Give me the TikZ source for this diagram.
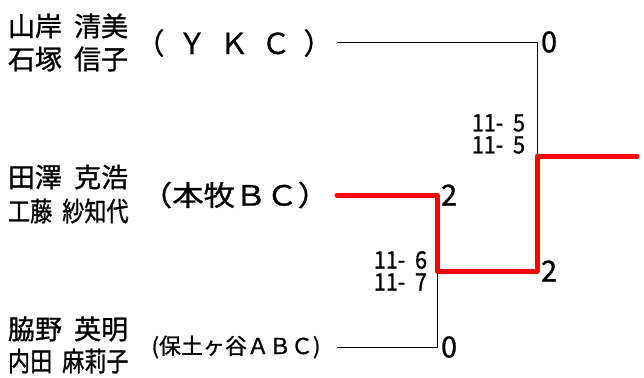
\documentclass[tikz,border=0pt]{standalone}
\usepackage{fontspec}
\newfontfamily\jpfont[WordSpace=2,FakeBold=1]{Noto Sans CJK JP}
\begin{document}
\begin{tikzpicture}[x=1pt,y=-1pt,
  player/.style={inner sep=0pt,outer sep=0pt,anchor=west,font=\jpfont\fontsize{27}{30}\selectfont},
  squeeze/.style={xscale=0.82,transform shape},
  team/.style={inner sep=0pt,outer sep=0pt,font=\jpfont\fontsize{28}{30}\selectfont},
  point/.style={inner sep=0pt,outer sep=0pt,anchor=west,font=\jpfont\fontsize{29}{30}\selectfont},
  game/.style={inner sep=0pt,outer sep=0pt,anchor=east,font=\jpfont\fontsize{24}{24}\selectfont,xscale=0.9,transform shape},
  lose/.style={draw=black,line width=0.8pt},
  win/.style={draw=red,line width=5pt,line cap=round,line join=round}]
\path[use as bounding box] (0,0) rectangle (644,377);
% bracket corners
\coordinate (a1) at (337,42);
\coordinate (a2) at (537,42);
\coordinate (b1) at (337,195);
\coordinate (b2) at (437,195);
\coordinate (c1) at (337,347);
\coordinate (c2) at (437,347);
\coordinate (sf) at (437,271);
\coordinate (fi) at (537,271);
\coordinate (top) at (537,156);
\coordinate (champ) at (637,156);
% pairs
\node[player] (p1a) at (8,26) {山岸 清美};
\node[player] (p1b) at (8,59) {石塚 信子};
\node[team,font=\jpfont\fontsize{29}{30}\selectfont] (t1) at (234,43) {（ Ｙ Ｋ Ｃ ）};
\node[player] (p2a) at (8,177) {田澤 克浩};
\node[player,squeeze] (p2b) at (8,211) {工藤 紗知代};
\node[team,xscale=1.12,transform shape] (t2) at (235,195) {（本牧ＢＣ）};
\node[player] (p3a) at (8,329) {脇野 英明};
\node[player,squeeze] (p3b) at (8,361) {内田 麻莉子};
\node[team,font=\jpfont\fontsize{22}{24}\selectfont] (t3) at (236,347) {(保土ヶ谷ＡＢＣ)};
% lines
\draw[lose] (c1) -- (c2) -- (sf);
\draw[lose] (a1) -- (a2) -- (top);
\draw[win] (b1) -- (b2) -- (sf) -- (fi) -- (top) -- (champ);
% scores
\node[point] (s1) at ([xshift=4pt]a2) {0};
\node[point] (s2) at ([xshift=4pt]b2) {2};
\node[point] (s3) at ([xshift=4pt]c2) {0};
\node[point] (s4) at ([xshift=4pt]fi) {2};
\node[game] (g1) at (525,123) {11- 5};
\node[game] (g2) at (525,145) {11- 5};
\node[game] (g3) at (427,260) {11- 6};
\node[game] (g4) at (427,282) {11- 7};
\end{tikzpicture}
\end{document}
